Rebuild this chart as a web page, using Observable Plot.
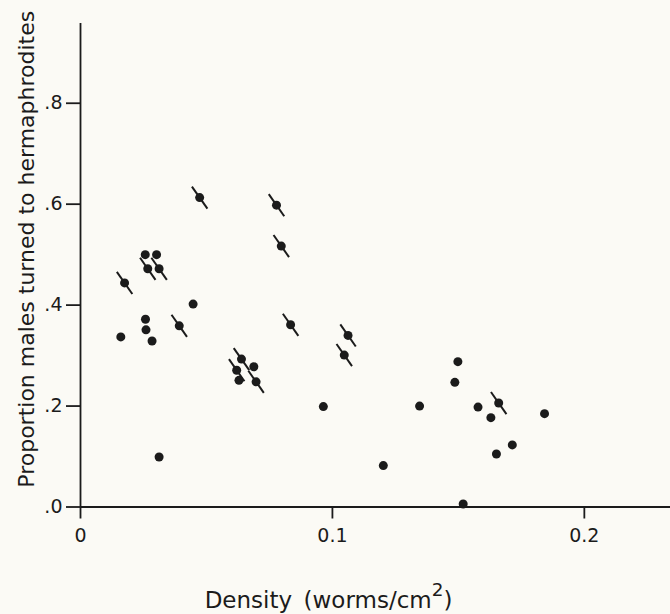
<!DOCTYPE html>
<html><head><meta charset="utf-8">
<script src="https://cdn.jsdelivr.net/npm/d3@7"></script>
<script src="https://cdn.jsdelivr.net/npm/@observablehq/plot@0.6"></script>
<style>
html,body{margin:0;padding:0;background:#fbfaf5;}
</style></head><body><div id="chart"></div>
<script>
const density = [0.016, 0.0175, 0.0257, 0.0302, 0.0267, 0.0312, 0.0258, 0.0260, 0.0284, 0.0312,
  0.0392, 0.0447, 0.0473, 0.0778, 0.0797, 0.0834, 0.0620, 0.0639, 0.0629, 0.0688,
  0.0697, 0.0964, 0.1047, 0.1062, 0.1202, 0.1346, 0.1498, 0.1486, 0.1519, 0.1578,
  0.1629, 0.1660, 0.1651, 0.1714, 0.1842];
const proportion = [0.337, 0.444, 0.500, 0.500, 0.472, 0.472, 0.372, 0.351, 0.329, 0.099,
  0.359, 0.402, 0.613, 0.598, 0.517, 0.361, 0.271, 0.293, 0.251, 0.278,
  0.248, 0.199, 0.301, 0.340, 0.082, 0.200, 0.288, 0.247, 0.006, 0.198,
  0.177, 0.206, 0.105, 0.123, 0.185];
const marked = [0, 1, 0, 0, 1, 1, 0, 0, 0, 0,
  1, 0, 1, 1, 1, 1, 1, 1, 0, 0,
  1, 0, 1, 1, 0, 0, 0, 0, 0, 0,
  0, 1, 0, 0, 0];
const xTicks = [0, 0.1, 0.2];
const xTickLabels = ["0", "0.1", "0.2"];
const yTicks = [0, 0.2, 0.4, 0.6, 0.8];
const yTickLabels = [".0", ".2", ".4", ".6", ".8"];
const xLabelMain = "Density\u2002(worms/cm";
const xLabelSup = "2";
const xLabelEnd = ")";
const yLabel = "Proportion males turned to hermaphrodites";

const data = density.map((d, i) => ({density: d, proportion: proportion[i], marked: marked[i] === 1}));
const ink = "#1b1b1b";
const font = "'DejaVu Sans', sans-serif";

const slash = {
  draw(context, size) {
    const r = Math.sqrt(size / Math.PI);
    const a = 35 * Math.PI / 180;
    const sx = r * Math.sin(a), sy = r * Math.cos(a);
    context.moveTo(-sx, -sy);
    context.lineTo(sx, sy);
  }
};

const plot = Plot.plot({
  width: 670, height: 614,
  marginLeft: 80, marginRight: 0, marginTop: 23, marginBottom: 107.5,
  style: {background: "#fbfaf5", fontFamily: font, fontWeight: "normal", fontSize: "19px", color: ink},
  x: {domain: [0, 0.2342]},
  y: {domain: [0, 0.958]},
  marks: [
    Plot.ruleY([0], {stroke: ink, strokeWidth: 1.8}),
    Plot.ruleX([0], {stroke: ink, strokeWidth: 1.8}),
    Plot.axisX({ticks: xTicks, tickFormat: d => xTickLabels[xTicks.indexOf(d)], tickSize: 12, tickPadding: 9,
      fontSize: 19, stroke: ink, strokeWidth: 1.8, fill: ink, label: null}),
    Plot.axisY({ticks: yTicks, tickFormat: d => yTickLabels[yTicks.indexOf(d)], tickSize: 14, tickPadding: 4,
      fontSize: 19, stroke: ink, strokeWidth: 1.8, fill: ink, label: null}),
    Plot.dot(data.filter(d => d.marked), {x: "density", y: "proportion", symbol: slash, r: 13.5,
      stroke: ink, strokeWidth: 2, fill: "none"}),
    Plot.dot(data, {x: "density", y: "proportion", r: 4.5, fill: ink, stroke: "none"}),
    Plot.text([xLabelMain + xLabelSup + xLabelEnd], {frameAnchor: "bottom", lineAnchor: "middle", textAnchor: "middle",
      dx: -47, dy: 93.5, fontSize: 23, fill: ink}),
    Plot.text([yLabel], {frameAnchor: "left", lineAnchor: "middle", textAnchor: "middle",
      rotate: -90, dx: -54, dy: -16, fontSize: 22, fill: ink})
  ]
});
// render the superscript "2" of the x label as a raised tspan
d3.select(plot).selectAll("text").each(function () {
  if (this.textContent === xLabelMain + xLabelSup + xLabelEnd) {
    const t = d3.select(this);
    t.text(null);
    t.append("tspan").text(xLabelMain);
    t.append("tspan").attr("dy", "-0.62em").attr("font-size", "0.8em").text(xLabelSup);
    t.append("tspan").attr("dy", "0.5em").text(xLabelEnd);
  }
});
document.getElementById("chart").appendChild(plot);
</script></body></html>
